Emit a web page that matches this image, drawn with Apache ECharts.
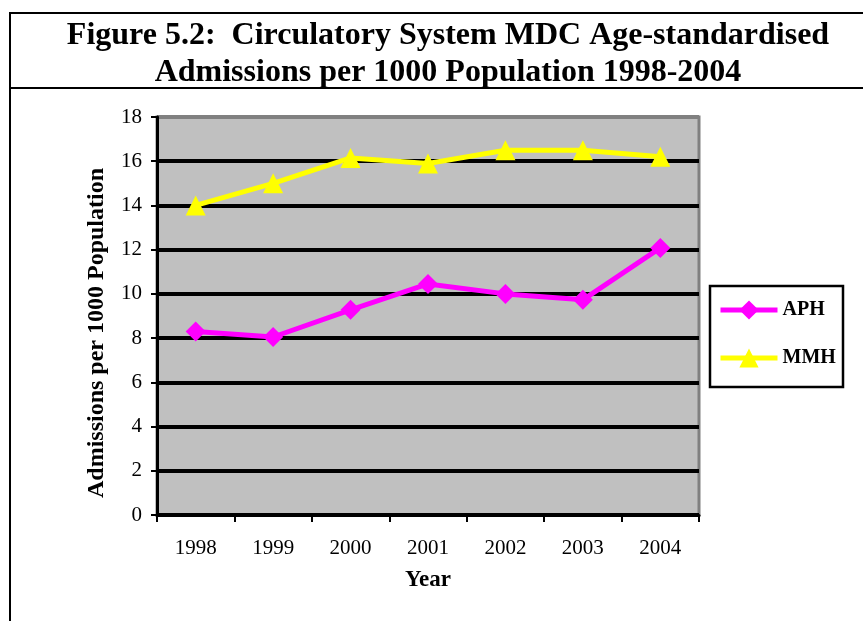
<!DOCTYPE html>
<html lang="en">
<head>
    <meta charset="UTF-8">
    <title>Figure 5.2: Circulatory System MDC Age-standardised Admissions</title>
    <script src="https://cdn.jsdelivr.net/npm/echarts@6/dist/echarts.min.js"></script>
    <style>
        html, body { margin: 0; padding: 0; background: #fff; }
        #chart { width: 863px; height: 621px; }
    </style>
</head>
<body>
    <div id="chart"></div>
    <script>
        // data
        const years = ['1998', '1999', '2000', '2001', '2002', '2003', '2004'];
        const aph = [8.3, 8.05, 9.28, 10.45, 10.0, 9.73, 12.08];
        const mmh = [14.0, 15.0, 16.15, 15.9, 16.5, 16.5, 16.2];

        const serif = "'Liberation Serif', 'DejaVu Serif', serif";
        const chart = echarts.init(document.getElementById('chart'));

        const option = {
            backgroundColor: '#fff',
            animation: false,
            title: {
                text: 'Figure 5.2:  Circulatory System MDC Age-standardised\nAdmissions per 1000 Population 1998-2004',
                left: 443,
                textAlign: 'center',
                top: 12,
                textStyle: {
                    fontFamily: serif,
                    fontSize: 32,
                    fontWeight: 'bold',
                    color: '#000',
                    lineHeight: 37
                }
            },
            graphic: [
                // figure frame
                { type: 'line', shape: { x1: 10, y1: 13, x2: 863, y2: 13 }, style: { stroke: '#000', lineWidth: 2 } },
                { type: 'line', shape: { x1: 10, y1: 88, x2: 863, y2: 88 }, style: { stroke: '#000', lineWidth: 2 } },
                { type: 'line', shape: { x1: 10, y1: 12, x2: 10, y2: 621 }, style: { stroke: '#000', lineWidth: 2 } },
                // legend box
                { type: 'rect', shape: { x: 710, y: 286, width: 133, height: 101 }, style: { fill: '#fff', stroke: '#000', lineWidth: 2.5 }, z: 1 }
            ],
            legend: {
                orient: 'vertical',
                left: 718,
                top: 300,
                padding: 0,
                itemGap: 28,
                itemWidth: 57,
                itemHeight: 24,
                z: 5,
                textStyle: {
                    fontFamily: serif,
                    fontSize: 20,
                    fontWeight: 'bold',
                    color: '#000'
                },
                data: [
                    { name: 'APH', lineStyle: { width: 5, color: '#ff00ff' } },
                    { name: 'MMH', lineStyle: { width: 5, color: '#ffff00' } }
                ]
            },
            grid: {
                left: 157,
                right: 164,
                top: 117,
                bottom: 106,
                show: true,
                backgroundColor: '#c0c0c0',
                borderColor: '#808080',
                borderWidth: 3
            },
            xAxis: {
                type: 'category',
                data: years,
                boundaryGap: true,
                name: 'Year',
                nameLocation: 'middle',
                nameGap: 54,
                nameTextStyle: { fontFamily: serif, fontSize: 23, fontWeight: 'bold', color: '#000' },
                axisLine: { lineStyle: { color: '#000', width: 3 } },
                axisTick: { show: true, length: 7, lineStyle: { color: '#000', width: 2 } },
                axisLabel: { fontFamily: serif, fontSize: 21, color: '#000', margin: 23 },
                splitLine: { show: false }
            },
            yAxis: {
                type: 'value',
                min: 0,
                max: 18,
                interval: 2,
                name: 'Admissions per 1000 Population',
                nameLocation: 'middle',
                nameGap: 48,
                nameTextStyle: { fontFamily: serif, fontSize: 24, fontWeight: 'bold', color: '#000', padding: [0, 34, 0, 0] },
                axisLine: { show: true, lineStyle: { color: '#000', width: 3 } },
                axisTick: { show: true, length: 6, lineStyle: { color: '#000', width: 2 } },
                axisLabel: { fontFamily: serif, fontSize: 21, color: '#000', margin: 15 },
                splitLine: {
                    show: true,
                    lineStyle: {
                        color: ['#000', '#000', '#000', '#000', '#000', '#000', '#000', '#000', '#000', '#808080'],
                        width: 4
                    }
                }
            },
            series: [
                {
                    name: 'APH',
                    type: 'line',
                    data: aph,
                    symbol: 'diamond',
                    symbolSize: 20,
                    itemStyle: { color: '#ff00ff' },
                    lineStyle: { color: '#ff00ff', width: 5 }
                },
                {
                    name: 'MMH',
                    type: 'line',
                    data: mmh,
                    symbol: 'triangle',
                    symbolSize: 20,
                    itemStyle: { color: '#ffff00' },
                    lineStyle: { color: '#ffff00', width: 5 }
                }
            ]
        };

        chart.setOption(option);
    </script>
</body>
</html>
